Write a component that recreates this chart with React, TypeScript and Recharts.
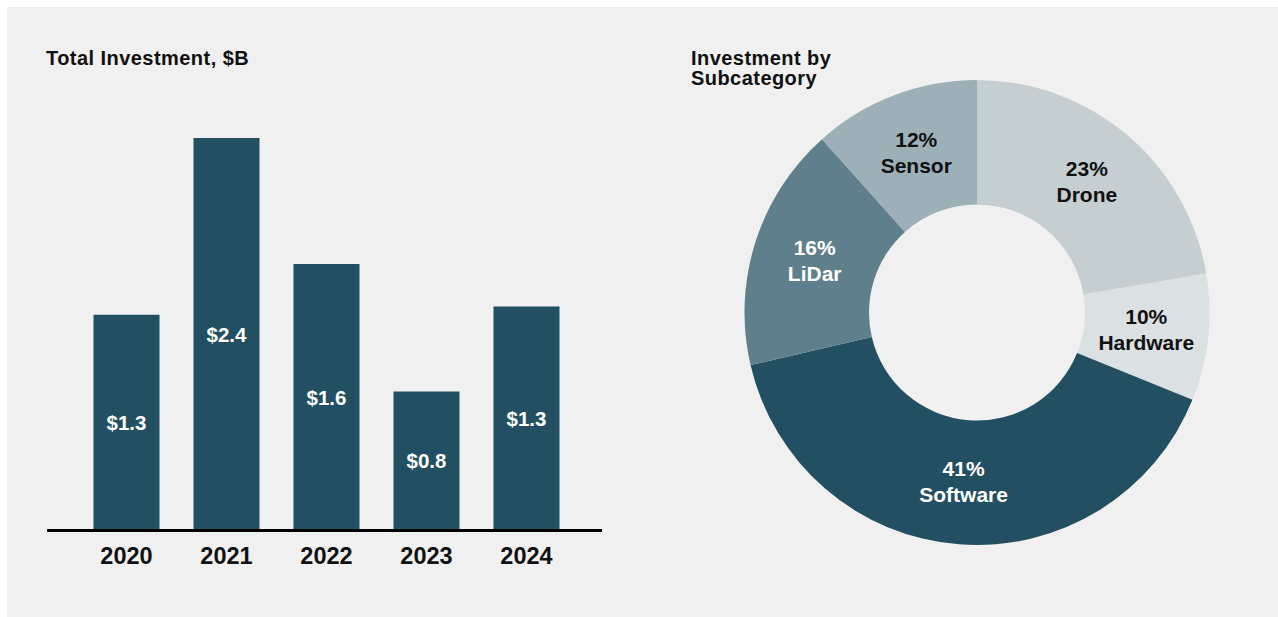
import React from "react";
import { BarChart, Bar, XAxis, YAxis, LabelList, PieChart, Pie, Cell } from "recharts";

const years = ["2020", "2021", "2022", "2023", "2024"];
const investment = [1.32, 2.4, 1.63, 0.85, 1.37];
const investmentLabels = ["$1.3", "$2.4", "$1.6", "$0.8", "$1.3"];

const subcategories = ["Drone", "Hardware", "Software", "LiDar", "Sensor"];
const subcategoryShares = [22.3, 8.8, 40.2, 17.0, 11.6];
const subcategoryLabels = ["23%", "10%", "41%", "16%", "12%"];
const subcategoryColors = ["#c5cfd2", "#dbe0e2", "#224f61", "#5f7f8c", "#9eb0b7"];
const subcategoryTextColors = ["#111111", "#111111", "#ffffff", "#ffffff", "#111111"];

const barData = years.map((y, i) => ({ year: y, value: investment[i], label: investmentLabels[i] }));
const pieData = subcategories.map((n, i) => ({ name: n, value: subcategoryShares[i], pct: subcategoryLabels[i] }));

const FONT = '"Liberation Sans", Arial, Helvetica, sans-serif';
const RAD = Math.PI / 180;

const renderPieLabel = (props: any) => {
  const { cx, cy, midAngle, innerRadius, outerRadius, index } = props;
  const r = (innerRadius + outerRadius) / 2;
  const x = cx + r * Math.cos(-midAngle * RAD);
  const y = cy + r * Math.sin(-midAngle * RAD);
  const d = pieData[index];
  const fill = subcategoryTextColors[index];
  return (
    <g>
      <text x={x} y={y - 6.5} textAnchor="middle" fill={fill} fontSize={21} fontWeight="bold" fontFamily={FONT}>
        {d.pct}
      </text>
      <text x={x} y={y + 19.5} textAnchor="middle" fill={fill} fontSize={21} fontWeight="bold" fontFamily={FONT}>
        {d.name}
      </text>
    </g>
  );
};

const titleStyle: React.CSSProperties = {
  position: "absolute",
  fontSize: 20,
  lineHeight: "20px",
  height: 20,
  letterSpacing: 0.45,
  fontWeight: "bold",
  color: "#111",
  whiteSpace: "nowrap",
};

export default function App() {
  return (
    <div style={{ position: "absolute", left: 0, top: 0, width: 1278, height: 617, fontFamily: FONT }}>
      <div style={{ position: "absolute", left: 7, top: 7, width: 1271, height: 610, background: "#f0f0f0" }} />
      <div style={{ ...titleStyle, left: 46, top: 47.5 }}>Total Investment, $B</div>
      <div style={{ ...titleStyle, left: 691, top: 47.5 }}>Investment by</div>
      <div style={{ ...titleStyle, left: 691, top: 67.5 }}>Subcategory</div>
      <div style={{ position: "absolute", left: 0, top: 0 }}>
        <BarChart width={640} height={617} data={barData} margin={{ top: 40, right: 38, bottom: 46.5, left: 47 }} barSize={66}>
          <YAxis hide domain={[0, 3]} />
          <XAxis
            dataKey="year"
            height={40}
            padding={{ left: 29.5, right: 25.5 }}
            axisLine={{ stroke: "#000", strokeWidth: 3 }}
            tickLine={false}
            tickSize={0}
            tickMargin={17}
            tick={{ fill: "#111", fontSize: 23.5, fontWeight: "bold", fontFamily: FONT }}
            interval={0}
          />
          <Bar dataKey="value" fill="#224f61" isAnimationActive={false}>
            <LabelList dataKey="label" position="center" fill="#ffffff" fontSize={20.5} fontWeight="bold" fontFamily={FONT} />
          </Bar>
        </BarChart>
      </div>
      <div style={{ position: "absolute", left: 640, top: 0 }}>
        <PieChart width={638} height={617} margin={{ top: 0, right: 0, bottom: 0, left: 0 }}>
          <Pie
            data={pieData}
            dataKey="value"
            nameKey="name"
            cx={337}
            cy={312.5}
            innerRadius={108}
            outerRadius={232.5}
            startAngle={90}
            endAngle={-270}
            stroke="none"
            label={renderPieLabel}
            labelLine={false}
            isAnimationActive={false}
          >
            {pieData.map((d, i) => (
              <Cell key={d.name} fill={subcategoryColors[i]} />
            ))}
          </Pie>
        </PieChart>
      </div>
    </div>
  );
}
